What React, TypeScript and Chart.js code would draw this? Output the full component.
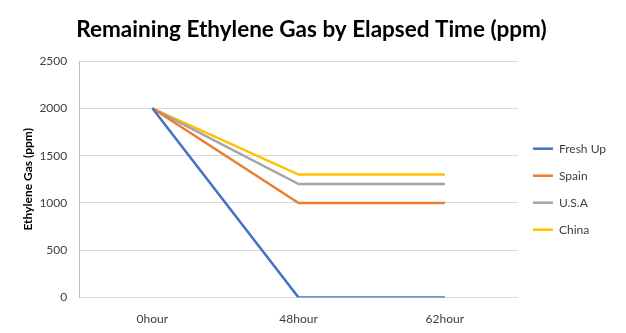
import React, { useEffect, useRef } from "react";
import { Chart, registerables } from "chart.js";

Chart.register(...registerables);

const categories = ["0hour", "48hour", "62hour"];
const freshUp = [2000, 0, 0];
const spain = [2000, 1000, 1000];
const usa = [2000, 1200, 1200];
const china = [2000, 1300, 1300];
const seriesNames = ["Fresh Up", "Spain", "U.S.A", "China"];
const seriesColors = ["#4472C4", "#ED7D31", "#A5A5A5", "#FFC000"];

export default function App() {
  const ref = useRef<HTMLCanvasElement>(null);
  useEffect(() => {
    if (!ref.current) return;
    const values = [freshUp, spain, usa, china];
    const chart = new Chart(ref.current, {
      type: "line",
      data: {
        labels: categories,
        datasets: values.map((v, i) => ({
          label: seriesNames[i],
          data: v,
          borderColor: seriesColors[i],
          backgroundColor: seriesColors[i],
          borderWidth: 2.5,
          pointRadius: 0,
          tension: 0,
        })),
      },
      options: {
        animation: false,
        responsive: false,
        maintainAspectRatio: false,
        layout: { padding: { left: 7, right: 10, top: 16, bottom: -7 } },
        plugins: {
          title: {
            display: true,
            text: "Remaining Ethylene Gas by Elapsed Time (ppm)",
            color: "#000",
            font: { family: "Lato", size: 22.5, weight: "bold" },
            padding: { top: 0, bottom: 18 },
          },
          legend: {
            position: "right",
            title: { display: true, text: " ", font: { size: 12 }, padding: 4 },
            labels: {
              usePointStyle: true,
              pointStyle: "line",
              pointStyleWidth: 20,
              color: "#404040",
              font: { family: "Lato", size: 12 },
              padding: 15,
            },
          },
          tooltip: { enabled: false },
        },
        scales: {
          x: {
            offset: true,
            grid: { display: false, drawTicks: false },
            border: { display: false },
            ticks: { color: "#404040", font: { family: "Lato", size: 12 }, padding: 14 },
          },
          y: {
            min: 0,
            max: 2500,
            ticks: {
              stepSize: 500,
              color: "#404040",
              font: { family: "Lato", size: 12 },
              padding: 12,
              callback: (v: any) => String(v),
            },
            grid: { color: "#D9D9D9", drawTicks: false, lineWidth: 1 },
            border: { display: true, color: "#BFBFBF" },
            title: {
              display: true,
              text: "Ethylene Gas (ppm)",
              color: "#000",
              font: { family: "Lato", size: 12, weight: "bold" },
              padding: { top: 14, bottom: -8 },
            },
          },
        },
      },
    });
    return () => chart.destroy();
  }, []);
  return (
    <div style={{ position: "fixed", left: 0, top: 0, width: 626, height: 333, background: "#fff" }}>
      <canvas ref={ref} width={626} height={333} />
    </div>
  );
}
